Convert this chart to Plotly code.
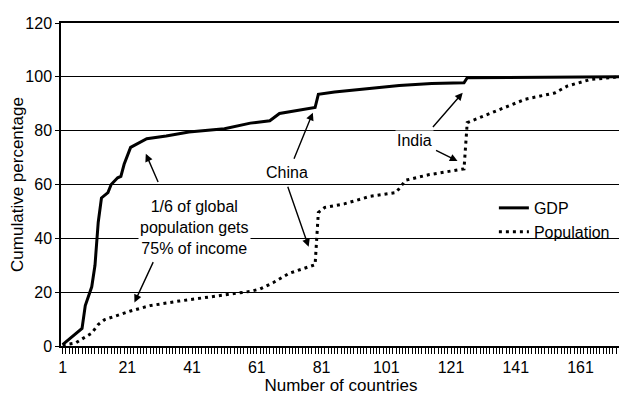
"""Cumulative share of world GDP and population, countries ranked by income."""

import plotly.graph_objects as go

# Country rank (x) and cumulative percentage (y)
gdp_rank = [1, 2, 4, 7, 8, 10, 11, 12, 13, 15, 16, 18, 19, 20, 22, 24, 27, 33,
            40, 51, 59, 65, 68, 79, 80, 85, 105, 115, 125, 126, 173]
gdp_cum = [0.5, 1.5, 3.7, 6.5, 15, 22, 30, 46, 55, 57, 60, 62.5, 63, 67.5, 73.8,
           75, 77, 78, 79.5, 80.7, 82.8, 83.7, 86.4, 88.6, 93.5, 94.4, 96.8,
           97.5, 97.8, 99.7, 100]

pop_rank = [1, 5, 7, 10, 12, 14, 17, 22, 28, 37, 47, 59, 62, 66, 71, 76, 79, 80,
            82, 88, 96, 104, 107, 114, 125, 126, 134, 144, 153, 157, 164, 173]
pop_cum = [0.3, 1.1, 2.6, 4.8, 8, 9.8, 11, 13, 15, 16.7, 18.3, 20.3, 21.2, 23.5,
           27, 29, 30.2, 49.6, 51.5, 52.8, 55.6, 57, 61.6, 63.6, 65.8, 83, 87,
           91.7, 94, 96.6, 99, 100]

n_countries = 173
labelled_ticks = [1, 21, 41, 61, 81, 101, 121, 141, 161]

# every country gets a tick (the hatched band), only every 20th is labelled
all_ticks = list(range(1, n_countries + 1))
all_text = [str(t) if t in labelled_ticks else "" for t in all_ticks]

FONT = "Liberation Sans, Arial, sans-serif"

fig = go.Figure()

fig.add_trace(
    go.Scatter(
        x=gdp_rank,
        y=gdp_cum,
        mode="lines",
        name="GDP",
        line=dict(color="black", width=3),
    )
)
fig.add_trace(
    go.Scatter(
        x=pop_rank,
        y=pop_cum,
        mode="lines",
        name="Population",
        line=dict(color="black", width=3, dash="3px,4px"),
    )
)

# annotation text boxes (white bg hides gridlines like the original)
labels = [
    ("1/6 of global<br>population gets<br>75% of income", 41.8, 44),
    ("China", 70.3, 64.5),
    ("India", 109.7, 76.5),
]
for text, lx, ly in labels:
    fig.add_annotation(
        x=lx, y=ly, text=text, showarrow=False,
        bgcolor="white", font=dict(family=FONT, size=16, color="black"),
    )

# arrows: (head x, head y, tail x, tail y)
arrows = [
    (26.7, 71.4, 30.7, 60.4),
    (23.2, 16.2, 29.2, 31.7),
    (78.3, 86.7, 72.3, 69.0),
    (77.0, 36.9, 70.4, 59.7),
    (124.6, 94.1, 115.0, 80.8),
    (123.0, 68.7, 115.9, 73.0),
]
for hx, hy, tx, ty in arrows:
    fig.add_annotation(
        x=hx, y=hy, ax=tx, ay=ty, xref="x", yref="y", axref="x", ayref="y",
        text="", showarrow=True, arrowhead=2, arrowsize=1.1, arrowwidth=1.4,
        arrowcolor="black",
    )

# the page body adds an 8px offset, so the figure is 8px smaller each way
fig.update_layout(
    width=619,
    height=395,
    margin=dict(l=53, r=6, t=15, b=57),
    paper_bgcolor="white",
    plot_bgcolor="white",
    font=dict(family=FONT, size=16, color="black"),
    showlegend=True,
    legend=dict(
        x=0.773, y=0.48, xanchor="left", yanchor="top",
        bgcolor="rgba(0,0,0,0)", font=dict(size=16),
        tracegroupgap=0, itemwidth=30,
    ),
    xaxis=dict(
        range=[0.5, n_countries + 0.5],
        tickmode="array",
        tickvals=all_ticks,
        ticktext=all_text,
        ticks="outside",
        ticklen=6,
        tickwidth=1,
        tickcolor="black",
        showgrid=False,
        zeroline=False,
        showline=True,
        linecolor="black",
        linewidth=1.5,
        mirror=True,
        automargin=False,
        title=dict(text="Number of countries", font=dict(size=17), standoff=2),
        tickfont=dict(size=16),
    ),
    yaxis=dict(
        range=[0, 120],
        dtick=20,
        ticks="outside",
        ticklen=4,
        tickcolor="black",
        showgrid=True,
        gridcolor="black",
        gridwidth=1,
        zeroline=False,
        showline=True,
        linecolor="black",
        linewidth=1.5,
        mirror=True,
        automargin=False,
        title=dict(text="Cumulative percentage", font=dict(size=17), standoff=6),
        tickfont=dict(size=16),
    ),
)

fig.write_html("out.html")
